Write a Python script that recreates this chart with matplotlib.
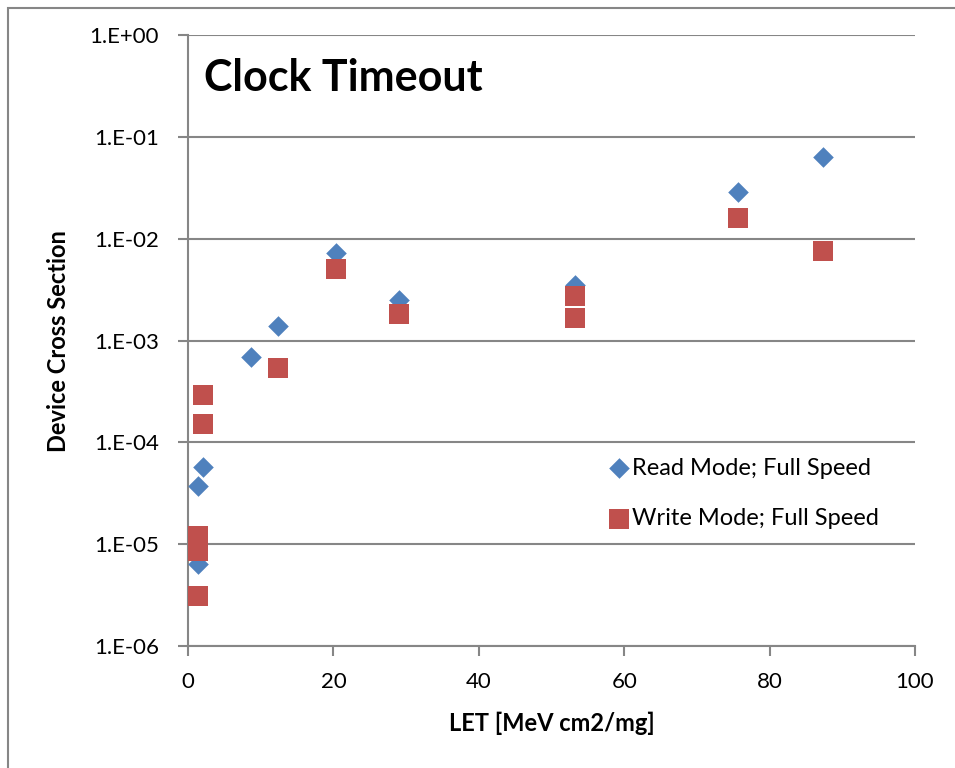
import numpy as np
import matplotlib.pyplot as plt
from matplotlib.patches import Rectangle
from matplotlib.ticker import FixedLocator, FuncFormatter

# values
read_let = [1.4, 1.4, 2.0, 8.6, 12.3, 20.4, 29.0, 53.3, 75.6, 87.4]
read_xs = [6.4e-6, 3.75e-5, 5.7e-5, 6.9e-4, 1.4e-3, 7.3e-3, 2.5e-3, 3.5e-3, 2.86e-2, 6.4e-2]

write_let = [1.4, 1.4, 1.4, 1.4, 2.0, 2.0, 12.3, 20.4, 29.0, 53.3, 53.3, 75.6, 87.4]
write_xs = [3.1e-6, 8.6e-6, 1.0e-5, 1.2e-5, 1.5e-4, 2.9e-4, 5.4e-4, 5.0e-3, 1.82e-3,
            2.77e-3, 1.66e-3, 1.61e-2, 7.6e-3]

y_ticks = [1e-6, 1e-5, 1e-4, 1e-3, 1e-2, 1e-1, 1e0]
x_ticks = [0, 20, 40, 60, 80, 100]

plt.rcParams['font.family'] = ['Lato', 'DejaVu Sans']

blue = '#4F81BD'
red = '#C0504D'
grid_c = '#868686'

fig = plt.figure(figsize=(9.55, 7.68), dpi=100)
ax = fig.add_axes([0.197, 0.159, 0.761, 0.795])

ax.scatter(read_let, read_xs, marker='D', s=110, color=blue, linewidths=0,
           label='Read Mode; Full Speed', zorder=3)
ax.scatter(write_let, write_xs, marker='s', s=200, color=red, linewidths=0,
           label='Write Mode; Full Speed', zorder=4)

ax.set_yscale('log')
ax.set_ylim(1e-6, 1e0)
ax.set_xlim(0, 100)
ax.yaxis.set_major_locator(FixedLocator(y_ticks))
ax.yaxis.set_minor_locator(FixedLocator([]))
ax.yaxis.set_major_formatter(FuncFormatter(
    lambda v, p: '1.E+00' if v >= 1 else '1.E-%02d' % round(-np.log10(v))))
ax.xaxis.set_major_locator(FixedLocator(x_ticks))

ax.grid(True, axis='y', color=grid_c, linewidth=1.5)
ax.set_axisbelow(True)
for side in ['top', 'right']:
    ax.spines[side].set_visible(False)
for side in ['left', 'bottom']:
    ax.spines[side].set_color(grid_c)
    ax.spines[side].set_linewidth(1.5)
ax.tick_params(axis='both', colors=grid_c, width=1.5, length=7, labelsize=16,
               labelcolor='black')
ax.tick_params(axis='y', pad=14)
ax.tick_params(axis='x', pad=12)

ax.set_xlabel('LET [MeV cm2/mg]', fontsize=17, fontweight='bold', labelpad=14)
ax.set_ylabel('Device Cross Section', fontsize=17, fontweight='bold', labelpad=14)

ax.text(0.022, 0.93, 'Clock Timeout', transform=ax.transAxes, fontsize=31,
        fontweight='bold', va='center', ha='left')

ax.legend(loc='upper left', bbox_to_anchor=(0.564, 0.324), frameon=False,
          fontsize=17, handlelength=1.0, handletextpad=0.05, labelspacing=1.25,
          markerscale=1.0, borderaxespad=0)

# chart-area border
fig.patches.append(Rectangle((8 / 955, -0.1), 1.2, (760 - 8) / 768 + 0.1 + 0.01,
                             transform=fig.transFigure, fill=False,
                             edgecolor=grid_c, linewidth=1.5))

fig.savefig('out.png', dpi=100)
